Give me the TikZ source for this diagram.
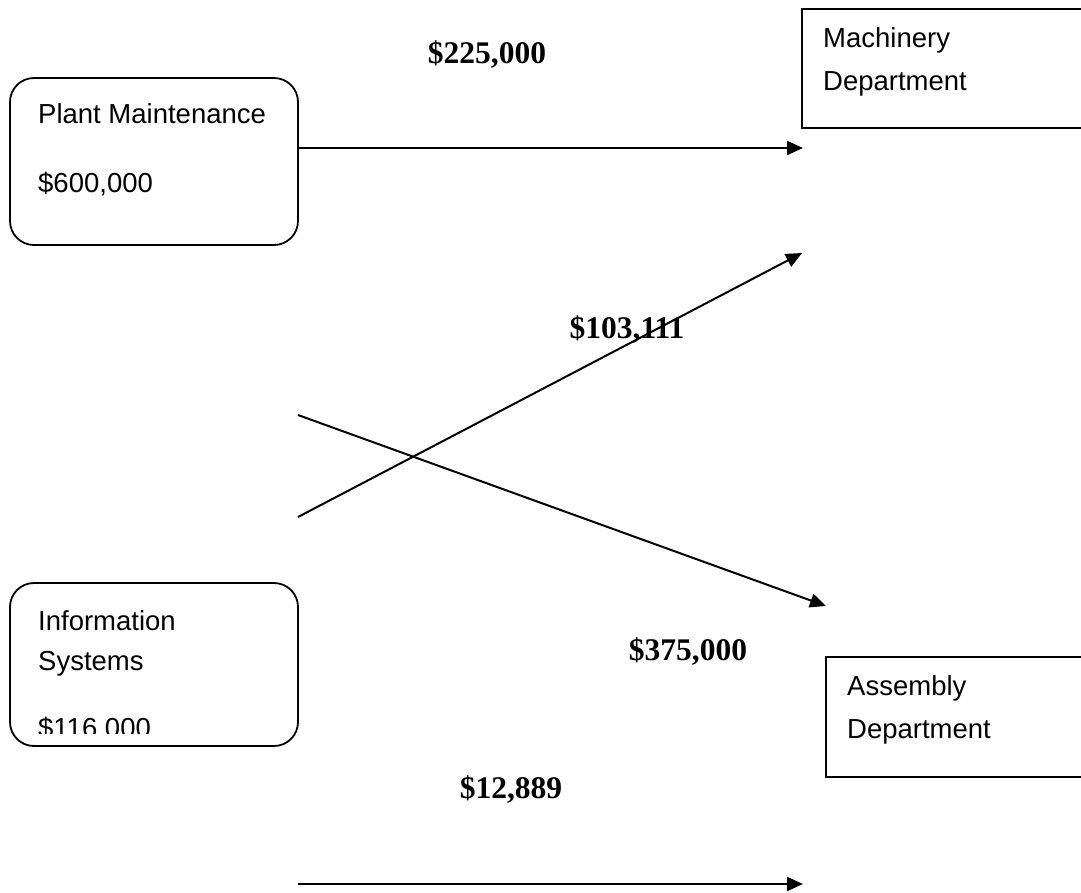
\documentclass[tikz,border=0pt]{standalone}
\usepackage{fontspec}
\setmainfont{Liberation Serif}
\newfontfamily\boxfont{Liberation Sans}
\usetikzlibrary{arrows.meta}
\begin{document}
\begin{tikzpicture}[x=1pt,y=-1pt,
  flow/.style={line width=2pt,-{Triangle[length=16pt,width=14pt]}},
  rbox/.style={draw,line width=1.8pt,rounded corners=24pt,inner sep=0pt,outer sep=0pt},
  sbox/.style={draw,line width=1.8pt,inner sep=0pt,outer sep=0pt},
  btext/.style={anchor=base west,inner sep=0pt,font=\boxfont\fontsize{27.5}{30}\selectfont},
  amount/.style={anchor=base,inner sep=0pt,font=\bfseries\fontsize{31.5}{34}\selectfont}]
\useasboundingbox (0,0) rectangle (1081,892);
\clip (0,0) rectangle (1081,892);
% boxes
\node[rbox,minimum width=288pt,minimum height=167pt] (pm) at (154,161.5) {};
\node[rbox,minimum width=288pt,minimum height=163pt] (is) at (154,664.5) {};
\node[sbox,minimum width=288pt,minimum height=119pt] (md) at (946,68.5) {};
\node[sbox,minimum width=264pt,minimum height=120pt] (ad) at (958,717) {};
% box texts
\node[btext] (pmt) at (38,123) {Plant Maintenance};
\node[btext] (pmv) at (38,192) {\$600,000};
\node[btext] (ist1) at (38,630) {Information};
\node[btext] (ist2) at (38,670) {Systems};
\begin{scope}
\clip (10,583) rectangle (298,733);
\node[btext] (isv) at (38,737) {\$116,000};
\end{scope}
\node[btext] (mdt1) at (823,47) {Machinery};
\node[btext] (mdt2) at (823,90) {Department};
\node[btext] (adt1) at (847,695) {Assembly};
\node[btext] (adt2) at (847,738) {Department};
% connector end points
\coordinate (s1) at (298,148);
\coordinate (e1) at (803,148);
\coordinate (s2) at (298,517);
\coordinate (e2) at (802,253);
\coordinate (s3) at (298,415);
\coordinate (e3) at (826,606);
\coordinate (s4) at (298,884);
\coordinate (e4) at (803,884);
\draw[flow] (s1) -- (e1);
\draw[flow] (s2) -- (e2);
\draw[flow] (s3) -- (e3);
\draw[flow] (s4) -- (e4);
% amounts
\node[amount] (l1) at (487,63) {\$225,000};
\node[amount] (l2) at (627,338) {\$103,111};
\node[amount] (l3) at (688,660) {\$375,000};
\node[amount] (l4) at (511,798) {\$12,889};
\end{tikzpicture}
\end{document}
